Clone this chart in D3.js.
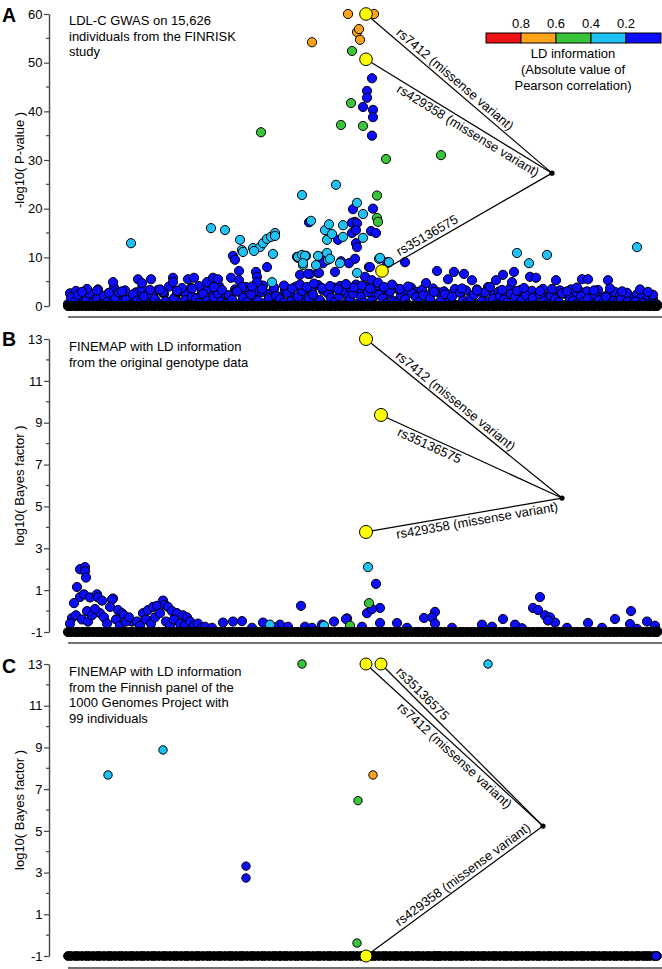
<!DOCTYPE html>
<html><head><meta charset="utf-8">
<script src="https://cdn.jsdelivr.net/npm/d3@7"></script>
<style>
body{margin:0;background:#fff}
svg{display:block}
text{font-family:"Liberation Sans",Arial,Helvetica,sans-serif;fill:#000}
</style>
</head><body>
<svg id="c" width="662" height="969"></svg>
<script>
// ---------------- DATA ----------------
const ldBins   = ["1.0-0.8","0.8-0.6","0.6-0.4","0.4-0.2","0.2-0"];
const ldColors = ["#ee1111","#ffa31a","#39c439","#1ec2f5","#0c0cff"];
const legendTicks = ["0.8","0.6","0.4","0.2"];
const legendTitle = ["LD information","(Absolute value of","Pearson correlation)"];
const leadColor = "#ffff00";

const ticksP  = [0,10,20,30,40,50,60];
const minorP  = [5,15,25,35,45,55];
const ticksBF = [-1,1,3,5,7,9,11,13];
const minorBF = [0,2,4,6,8,10,12];

// SNP positions (relative units) for the dense background of variants
const snpPos = [6,9,13,16,20,24,27,31,35,38,42,46,49,53,57,60,64,68,71,75,
79,82,86,90,93,97,101,104,108,112,115,119,123,126,130,134,137,141,145,148,
152,156,159,163,167,170,174,178,181,185,189,192,196,200,203,207,211,214,218,222,
225,229,233,236,240,244,247,251,255,258,262,266,269,273,277,280,284,288,291,295,
299,302,306,310,313,317,321,324,328,332,335,339,343,346,350,354,357,361,365,368,
372,376,379,383,387,390,394,398,401,405,409,412,416,420,423,427,431,434,438,442,
445,449,453,456,460,464,467,471,475,478,482,486,489,493,497,500,504,508,511,515,
519,522,526,530,533,537,541,544,548,552,555,559,563,566,570,574,577,581,585,588,592,595];
const snpPos2 = [8,14,19,25,30,36,41,47,52,58,63,69,74,80,85,91,96,102,107,113,
118,124,129,135,140,146,151,157,162,168,173,179,184,190,195,201,206,212,217,223,
228,234,239,245,250,256,261,267,272,278,283,289,294,300,305,311,316,322,327,333,
338,344,349,355,360,366,371,377,382,388,393,399,404,410,415,421,426,432,437,443,
448,454,459,465,470,476,481,487,492,498,503,509,514,520,525,531,536,542,547,553,
558,564,569,575,580,586,591];

// Panel A: -log10(P) of the background variants
const A_baseVal = [0.4,1.8,0.9,2.3,0.2,1.2,2.6,0.7,1.5,0.3,
2.1,1.0,0.5,1.7,2.8,0.6,1.3,0.2,2.4,1.1,
0.8,1.9,0.3,2.2,1.4,0.5,2.7,1.0,0.4,1.6,
2.9,0.7,1.2,0.3,2.0,1.5,0.6,2.5,1.1,0.2,
1.8,2.6,0.9,0.4,2.2,1.3,3.0,0.5,1.7,0.8,
2.4,0.3,1.1,2.9,0.6,1.6,0.2,2.1,1.4,0.7,
2.7,1.0,0.4,1.9,3.1,0.8,1.5,2.3,0.5,1.2,
0.3,2.6,1.7,0.9,2.0,3.2,0.6,1.3,2.5,0.4,
1.9,0.7,2.8,1.1,0.2,2.3,1.6,0.5,3.0,1.0,
0.6,2.1,1.4,0.3,2.6,1.8,0.8,2.2,0.4,1.5,
2.9,0.5,1.2,2.4,0.7,1.9,0.2,2.7,1.1,0.6,
1.6,2.3,0.4,1.0,2.8,0.9,1.5,0.3,2.0,1.3,
0.7,2.5,1.8,0.4,1.2,2.2,0.6,1.7,0.3,2.4,
1.0,0.5,2.1,1.4,0.8,2.6,0.2,1.6,1.1,0.4,
2.0,0.9,1.5,0.3,2.3,1.2,0.6,1.8,0.4,1.0,
0.7,1.4,0.3,1.1,0.5,0.9,0.2,0.6,0.3,0.2,0.4,0.3];
const A_baseVal2 = [2.6,3.1,1.8,2.9,2.2,3.4,1.6,2.7,3.8,2.0,
3.2,1.5,2.8,3.6,2.3,1.9,3.3,2.5,4.0,1.7,
3.0,2.4,3.7,1.6,2.9,3.5,2.1,4.1,2.6,1.8,
3.4,2.7,3.9,2.2,3.1,4.2,2.5,3.6,1.9,3.3,
2.8,4.0,2.3,3.5,2.9,4.3,3.2,2.6,3.8,4.1,
2.7,3.6,4.4,3.0,3.9,2.8,4.2,3.4,2.5,3.7,
3.1,2.4,3.8,2.9,3.3,2.2,3.6,2.8,3.0,2.4,
3.5,2.7,3.2,2.1,3.4,2.6,3.9,2.3,3.0,2.8,
3.6,2.2,3.3,2.7,3.1,2.4,3.5,2.0,2.9,3.2,
2.5,3.4,2.1,2.8,3.0,2.3,3.3,1.9,2.6,2.9,
2.2,2.7,1.8,2.4,2.0,1.6,1.4];

const A_blue = [[310,46.8],[305,44.2],[305,42.8],[301,40.9],[311,40.3],[311,38.8],[310,35.0],
[291,19.9],[311,20.0],[293,17.3],[290,17.1],[295,17.0],[290,15.0],[294,15.6],[309,15.4],[314,15.0],
[276,13.6],[294,12.9],[295,12.1],[307,8.0],[343,9.0],[205,8.0],[171,10.3],[173,9.5],[177,7.2],
[247,17.2],[236,9.9],[256,6.8],[248,6.6],[194,7.0],[235,10.1],[259,10.1],[261,8.8],[273,7.0],
[279,9.2],[287,8.8],[293,9.7],[308,8.0],[325,9.0],[238,6.4],[246,6.6],[257,6.8],[303,6.0],
[310,5.3],[195,6.0],[195,4.9],
[375,7.2],[392,7.0],[402,6.6],[386,5.5],[410,5.3],[441,6.4],[452,7.0],[434,5.3],[450,4.9],
[468,6.0],[474,5.8],[494,5.3],[520,5.5],[526,5.5],[546,5.3],[364,4.7],[455,3.1],[565,2.7],
[591,2.3],[595,0.2],
[51,4.9],[25,3.5],[76,5.5],[80,4.7],[89,5.5],[88,3.3],[111,5.8],[111,4.9],[126,5.5],[132,5.8],
[137,4.1],[145,4.9],[151,5.8],[156,5.5],[152,3.9],[169,5.8],[177,5.3],[180,3.9],[101,2.9],
[120,3.7],[47,2.7],
[190,4.0],[200,3.5],[212,3.8],[222,4.2],[230,3.6],[238,4.4],[245,3.9],[252,4.6],[260,3.7],
[268,4.1],[276,3.4],[284,4.5],[292,3.8],[300,4.2],[308,3.6],[316,4.8],[322,3.9],[330,4.4],
[338,3.5],[346,4.0],[400,3.6],[415,3.2],[428,3.9],[440,3.3],[462,3.7],[478,3.1],[490,3.5],
[505,3.0],[515,3.8],[532,3.2],[548,3.6],[560,3.0],[578,3.4],[586,2.9],[20,2.9],[35,3.2],
[60,3.0],[98,3.4],[115,3.1],[130,3.6],[160,3.3],[175,3.0]];

const A_cyan = [[69,12.9],[149,16.0],[163,15.6],[178,13.6],[180,11.5],[181,11.1],[191,11.9],
[198,12.1],[201,12.9],[205,13.8],[209,14.2],[213,15.0],[213,14.4],[211,10.7],[192,11.3],
[240,22.8],[249,17.5],[236,10.1],[244,10.3],[241,8.4],[254,8.4],[263,15.6],[265,13.6],
[266,9.5],[267,16.8],[270,14.8],[274,24.9],[281,16.6],[281,14.2],[295,21.2],[301,18.9],
[301,14.0],[317,9.7],[327,9.0],[455,10.9],[485,10.5],[467,8.8],[575,12.1],[240,10.5],
[243,10.3],[256,10.3],[265,10.9],[268,9.7],[241,8.8],[295,6.8],[318,9.9],[278,8.8],[210,4.9]];

const A_green  = [[290,52.4],[289,41.7],[279,37.2],[301,37.0],[324,30.2],[379,31.0],[199,35.7],
[315,22.7],[315,18.1],[316,17.3]];
const A_orange = [[286,60],[312,60],[250,54.2],[295,56.3],[297,56.9],[298,54.7]];

// Panel B: log10(Bayes factor), LD from the original genotype data
const B_blue = [[18,2.0],[23,2.1],[23,1.9],[24,1.6],[15,1.15],[18,0.67],[22,0.8],[28,0.65],
[35,0.8],[36,0.65],[40,0.5],[51,0.6],[50,0.55],[12,0.38],[10,-0.33],[25,0],[38,-0.1],[56,0.05],
[60,-0.1],[62,-0.2],[81,-0.1],[86,0.05],[91,0.2],[95,0.25],[101,0.5],[103,0.3],[106,0.2],
[110,0],[115,-0.1],[121,-0.2],[125,-0.3],[70,-0.5],[75,-0.5],
[8,-0.6],[14,-0.2],[20,-0.4],[26,-0.5],[30,-0.2],[33,0.1],[42,-0.3],[45,-0.6],[48,0.2],
[54,-0.4],[58,-0.7],[64,-0.5],[67,-0.3],[78,-0.7],[84,-0.4],[89,-0.6],[93,-0.3],[98,-0.1],
[104,-0.5],[108,-0.7],[112,-0.4],[118,-0.6],[123,-0.7],[128,-0.5],[132,-0.7],[136,-0.6],[140,-0.8],
[239,0.25],[143,-0.75],[161,-0.55],[171,-0.5],[180,-0.48],[201,-0.55],[218,-0.65],[226,-0.75],
[243,-0.75],[260,-0.65],[272,-0.5],[285,-0.35],
[314,1.3],[318,0.15],[284,-0.38],[318,-0.57],[305,-0.1],[310,0.1],[335,-0.57],[362,-0.33],
[373,-0.04],[370,-0.3],[373,-0.6],[420,-0.65],[441,-0.38],[453,-0.65],[478,0.67],[471,0.15],
[476,0.05],[483,-0.2],[488,-0.3],[493,-0.55],[486,-0.45],[526,-0.57],[553,-0.38],[569,0.0],
[568,-0.62],[585,-0.5],[593,-0.7],[595,-0.95],
[150,-0.8],[190,-0.8],[212,-0.78],[250,-0.8],[300,-0.75],[345,-0.8],[390,-0.8],[430,-0.75],
[460,-0.82],[505,-0.8],[540,-0.8],[575,-0.85]];
const B_cyan  = [[306,2.1],[208,-0.65],[262,-0.7]];
const B_green = [[307,0.38],[288,-0.7]];

// Panel C: log10(Bayes factor), LD from 1000 Genomes Finnish panel
const C_blue_hidden = [[218,-1],[373,-1],[376,-1],[583,-1]];
const C_blue  = [[184,3.31],[184,2.74],[594,-1]];
const C_cyan  = [[46,7.68],[101,8.88],[426,13]];
const C_green = [[240,13],[296,6.45],[295,-0.38]];
const C_orange = [[311,7.68]];

// lead (causal candidate) variants
const leadNames = ["rs7412 (missense variant)","rs429358 (missense variant)","rs35136575"];
const leadA = [[304,60],[304,50.7],[320,7.2]];
const leadB = [[304,13],[304,3.78],[319,9.37]];
const leadC = [[304,13],[304,-1],[319,13]];
const hubA = [490,27.3], hubB = [500,5.4], hubC = [481,5.23];

// ---------------- DRAWING ----------------
const svg = d3.select("#c");
const x = d3.scaleLinear().domain([0,600]).range([62,662]);
const AXIS_X = 49;
const FS = "13px";

function dots(g, y, data, color, r){
  g.append("g").selectAll("circle").data(data).join("circle")
    .attr("cx", d=>x(d[0])).attr("cy", d=>y(d[1])).attr("r", r)
    .attr("fill", color).attr("stroke","#000").attr("stroke-width",1);
}
function zip(pos, vals){
  const n = Math.min(pos.length, vals.length);
  return pos.slice(0,n).map((p,i)=>[p, vals[i]]);
}

function panel(cfg){
  const y = d3.scaleLinear().domain(cfg.domain).range(cfg.range);
  const g = svg.append("g");

  const axis = d3.axisLeft(y).tickValues(cfg.ticks).tickSize(5).tickSizeOuter(0)
      .tickPadding(1.5).tickFormat(d=>String(d));
  const ag = g.append("g").attr("transform",`translate(${AXIS_X},0)`).call(axis);
  ag.select(".domain").attr("stroke","#444").attr("stroke-width",1.4);
  ag.selectAll(".tick line").attr("stroke","#444").attr("stroke-width",1.2);
  ag.selectAll(".tick text").style("font-size","13px").style("font-family","'Liberation Sans',Arial,sans-serif").attr("fill","#000");
  g.append("g").selectAll("line").data(cfg.minor).join("line")
    .attr("x1",AXIS_X-3).attr("x2",AXIS_X).attr("y1",d=>y(d)).attr("y2",d=>y(d))
    .attr("stroke","#444").attr("stroke-width",1.2);

  const mid = (cfg.range[0]+cfg.range[1])/2;
  g.append("text").attr("transform",`translate(24,${mid}) rotate(-90)`)
    .attr("text-anchor","middle").style("font-size",FS).text(cfg.title);

  g.append("text").attr("x",2).attr("y",cfg.letterY).style("font-size","19.5px")
    .style("font-weight","bold").text(cfg.letter);

  g.append("g").selectAll("text").data(cfg.desc).join("text")
    .attr("x",69).attr("y",(d,i)=>cfg.descY + i*15.6).style("font-size",FS).text(d=>d);

  g.append("line").attr("x1",68).attr("x2",662).attr("y1",cfg.ruleY).attr("y2",cfg.ruleY)
    .attr("stroke","#444").attr("stroke-width",1.4);

  cfg.layers(g, y);

  const hx = x(cfg.hub[0]), hy = y(cfg.hub[1]);
  cfg.leads.forEach(l=>{
    g.append("line").attr("x1",x(l[0])).attr("y1",y(l[1])).attr("x2",hx).attr("y2",hy)
      .attr("stroke","#000").attr("stroke-width",1.2);
  });
  cfg.leads.forEach((l,i)=>{
    const px = x(l[0]), py = y(l[1]);
    const ang = Math.atan2(hy-py, hx-px)*180/Math.PI;
    const lab = cfg.labels[i];
    const tx = px + (hx-px)*lab.t, ty = py + (hy-py)*lab.t;
    g.append("text").attr("transform",`translate(${tx},${ty}) rotate(${ang})`)
      .attr("dy", lab.side==="above" ? -4 : 12).attr("text-anchor","middle")
      .style("font-size",FS).text(leadNames[i]);
  });
  dots(g, y, cfg.leads, leadColor, cfg.leadR);
  g.append("circle").attr("cx",hx).attr("cy",hy).attr("r",2.6).attr("fill","#000");
}

// Panel A
panel({
  letter:"A", letterY:22, title:"-log10( P-value )",
  domain:[0,60], range:[306,14], ticks:ticksP, minor:minorP, ruleY:317,
  desc:["LDL-C GWAS on 15,626","individuals from the FINRISK","study"], descY:25,
  leads:leadA, hub:hubA, leadR:6.3,
  labels:[{t:0.45,side:"above"},{t:0.57,side:"below"},{t:0.29,side:"above"}],
  layers:(g,y)=>{
    dots(g,y,zip(snpPos2, A_baseVal2), ldColors[4], 4.6);
    dots(g,y,zip(snpPos, A_baseVal), ldColors[4], 4.6);
    dots(g,y,A_blue, ldColors[4], 4.6);
    dots(g,y,A_cyan, ldColors[3], 4.6);
    dots(g,y,A_green, ldColors[2], 4.6);
    dots(g,y,A_orange, ldColors[1], 4.6);
    dots(g,y,snpPos.map(p=>[p,0]), "#000", 4.6);
  }
});

// Panel B
panel({
  letter:"B", letterY:346, title:"log10( Bayes factor )",
  domain:[-1,13], range:[632,339], ticks:ticksBF, minor:minorBF, ruleY:643,
  desc:["FINEMAP with LD information","from the original genotype data"], descY:351,
  leads:leadB, hub:hubB, leadR:6.5,
  labels:[{t:0.43,side:"above"},{t:0.56,side:"below"},{t:0.285,side:"below"}],
  layers:(g,y)=>{
    dots(g,y,B_blue, ldColors[4], 4.6);
    dots(g,y,B_cyan, ldColors[3], 4.6);
    dots(g,y,B_green, ldColors[2], 4.6);
    dots(g,y,snpPos.map(p=>[p,-1]), "#000", 4.6);
  }
});

// Panel C
panel({
  letter:"C", letterY:673, title:"log10( Bayes factor )",
  domain:[-1,13], range:[956,664], ticks:ticksBF, minor:minorBF, ruleY:968,
  desc:["FINEMAP with LD information","from the Finnish panel of the","1000 Genomes Project with","99 individuals"], descY:676,
  leads:leadC, hub:hubC, leadR:6.0,
  labels:[{t:0.53,side:"below"},{t:0.575,side:"above"},{t:0.22,side:"above"}],
  layers:(g,y)=>{
    dots(g,y,C_blue_hidden, ldColors[4], 4.2);
    dots(g,y,snpPos.map(p=>[p,-1]), "#000", 4.4);
    dots(g,y,C_blue, ldColors[4], 4.2);
    dots(g,y,C_cyan, ldColors[3], 4.2);
    dots(g,y,C_green, ldColors[2], 4.2);
    dots(g,y,C_orange, ldColors[1], 4.2);
  }
});

// Legend
const lg = svg.append("g");
const lx = d3.scaleLinear().domain([0,5]).range([486,661]);
lg.selectAll("rect").data(ldColors).join("rect")
  .attr("x",(d,i)=>lx(i)).attr("y",33).attr("width",lx(1)-lx(0)).attr("height",10)
  .attr("fill",d=>d).attr("stroke","#000").attr("stroke-width",1);
lg.selectAll("text.t").data(legendTicks).join("text").attr("class","t")
  .attr("x",(d,i)=>lx(i+1)).attr("y",28).attr("text-anchor","middle").style("font-size",FS).text(d=>d);
lg.selectAll("text.h").data(legendTitle).join("text").attr("class","h")
  .attr("x",573).attr("y",(d,i)=>58+i*16).attr("text-anchor","middle").style("font-size",FS).text(d=>d);
</script>
</body></html>
